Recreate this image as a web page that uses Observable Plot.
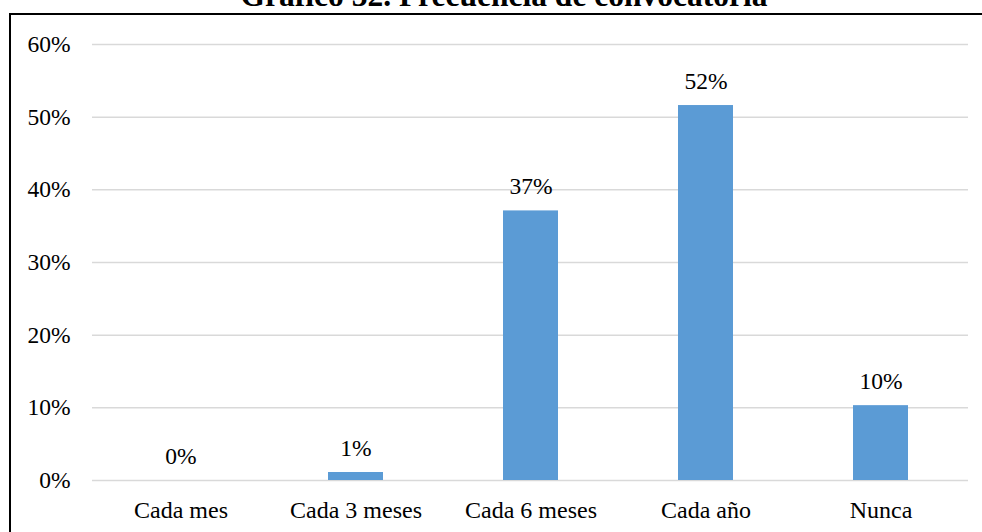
<!DOCTYPE html>
<html>
<head>
<meta charset="utf-8">
<script src="https://cdn.jsdelivr.net/npm/d3@7"></script>
<script src="https://cdn.jsdelivr.net/npm/@observablehq/plot@0.6"></script>
<style>
  html, body { margin: 0; padding: 0; background: #fff; }
  #wrap { position: relative; width: 982px; height: 532px; overflow: hidden; background: #fff; }
  #frame { position: absolute; left: 9px; top: 12.5px; width: 1000px; height: 600px;
           border-left: 2.5px solid #000; border-top: 2.5px solid #000; box-sizing: border-box; }
  #title { position: absolute; left: 0; top: 0; }
  #chart { position: absolute; left: 0; top: 0; }
  #wrap svg text { font-family: "Liberation Serif", "DejaVu Serif", serif !important; }
</style>
</head>
<body>
<div id="wrap">
  <svg id="title" width="982" height="14"><text x="504" y="5.5" text-anchor="middle"
    font-weight="bold" font-size="31.5">Gráfico 32. Frecuencia de convocatoria</text></svg>
  <div id="frame"></div>
  <div id="chart"></div>
</div>
<script>
const categories = ["Cada mes", "Cada 3 meses", "Cada 6 meses", "Cada año", "Nunca"];
const values = [0.0, 0.011, 0.371, 0.516, 0.103];
const labels = ["0%", "1%", "37%", "52%", "10%"];
const yTicks = [0, 0.1, 0.2, 0.3, 0.4, 0.5, 0.6];

const data = categories.map((c, i) => ({category: c, value: values[i], label: labels[i]}));

const chart = Plot.plot({
  width: 982,
  height: 532,
  marginLeft: 92,
  marginRight: 14,
  marginTop: 44,
  marginBottom: 52,
  style: {fontSize: "24px", color: "#000", background: "transparent"},
  x: {domain: categories, paddingInner: 0.686, paddingOuter: 0.343, label: null},
  y: {domain: [0, 0.6], label: null},
  marks: [
    Plot.ruleY(yTicks, {stroke: "#d9d9d9", strokeWidth: 1.5}),
    Plot.barY(data, {x: "category", y: "value", fill: "#5b9bd5"}),
    Plot.text(data, {x: "category", y: "value", text: "label", lineAnchor: "bottom", dy: -17, fill: "#000", fontSize: 23.5}),
    Plot.axisY({ticks: yTicks, tickFormat: d3.format(".0%"), tickSize: 0, tickPadding: 22, fontSize: 23.5, label: null}),
    Plot.axisX({tickSize: 0, tickPadding: 20, fontSize: 24, label: null})
  ]
});
document.getElementById("chart").appendChild(chart);
</script>
</body>
</html>
